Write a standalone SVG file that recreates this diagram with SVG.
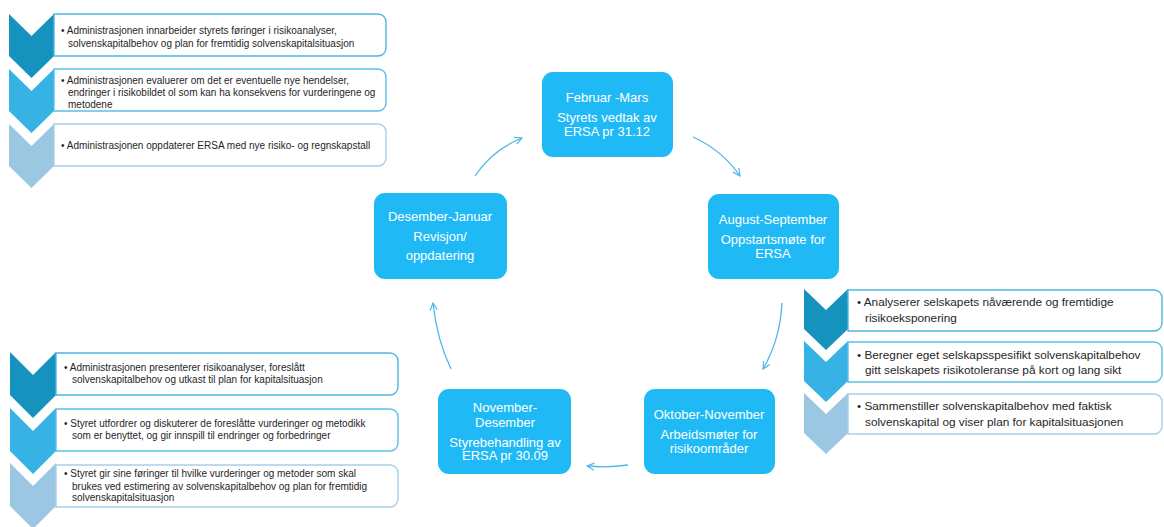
<svg xmlns="http://www.w3.org/2000/svg" width="1164" height="527" viewBox="0 0 1164 527">
<defs>
<style>
.c1{fill:#1592BE}
.c2{fill:#36B2E5}
.c3{fill:#9CC7E3}
.b{fill:#fff;stroke-width:1.4}
.b1{stroke:#4FB6E0}
.b2{stroke:#5BC0EA}
.b3{stroke:#A7CFEA}
.t{font-family:"Liberation Sans",Arial,sans-serif;fill:#262626}
.ts{font-size:10px}
.tl{font-size:11.8px}
.node rect{fill:#1FBAF5}
.nt{font-family:"Liberation Sans",Arial,sans-serif;font-size:13px;fill:#fff;text-anchor:middle}
.conn path{fill:none;stroke:#4DB8E8;stroke-width:1.3}
</style>
<marker id="ah" viewBox="0 0 10 10" refX="9" refY="5" markerWidth="9" markerHeight="9" markerUnits="userSpaceOnUse" orient="auto">
<path d="M1,1 L9,5 L1,9" fill="none" stroke="#4DB8E8" stroke-width="1.3"/>
</marker>
</defs>
<rect width="1164" height="527" fill="#fff"/>

<!-- Top-left list -->
<g id="list-top">
<path class="c1" d="M9,14 L31.5,36 L54,14 L54,56 L31.5,78 L9,56 Z"/>
<path class="c2" d="M9,69 L31.5,91 L54,69 L54,111 L31.5,133 L9,111 Z"/>
<path class="c3" d="M9,124 L31.5,146 L54,124 L54,166 L31.5,188 L9,166 Z"/>
<path class="b b1" d="M54,14 H378 A8,8 0 0 1 386,22 V48 A8,8 0 0 1 378,56 H54 Z"/>
<path class="b b2" d="M54,69 H378 A8,8 0 0 1 386,77 V103 A8,8 0 0 1 378,111 H54 Z"/>
<path class="b b3" d="M54,124 H378 A8,8 0 0 1 386,132 V158 A8,8 0 0 1 378,166 H54 Z"/>
<text class="t ts" x="61" y="34">• Administrasjonen innarbeider styrets føringer i risikoanalyser,</text>
<text class="t ts" x="68" y="47">solvenskapitalbehov og plan for fremtidig solvenskapitalsituasjon</text>
<text class="t ts" x="61" y="84">• Administrasjonen evaluerer om det er eventuelle nye hendelser,</text>
<text class="t ts" x="68" y="96">endringer i risikobildet ol som kan ha konsekvens for vurderingene og</text>
<text class="t ts" x="68" y="108">metodene</text>
<text class="t ts" x="61" y="149">• Administrasjonen oppdaterer ERSA med nye risiko- og regnskapstall</text>
</g>

<!-- Right list -->
<g id="list-right">
<path class="c1" d="M804,289 L826,310 L848,289 L848,329 L826,350 L804,329 Z"/>
<path class="c2" d="M804,341 L826,362 L848,341 L848,381 L826,402 L804,381 Z"/>
<path class="c3" d="M804,393 L826,414 L848,393 L848,433 L826,454 L804,433 Z"/>
<path class="b b1" d="M848,290 H1154 A8,8 0 0 1 1162,298 V323 A8,8 0 0 1 1154,331 H848 Z"/>
<path class="b b2" d="M848,342 H1154 A8,8 0 0 1 1162,350 V374 A8,8 0 0 1 1154,382 H848 Z"/>
<path class="b b3" d="M848,394 H1154 A8,8 0 0 1 1162,402 V426 A8,8 0 0 1 1154,434 H848 Z"/>
<text class="t tl" x="857" y="306">• Analyserer selskapets nåværende og fremtidige</text>
<text class="t tl" x="865" y="322">risikoeksponering</text>
<text class="t tl" x="857" y="359">• Beregner eget selskapsspesifikt solvenskapitalbehov</text>
<text class="t tl" x="865" y="374">gitt selskapets risikotoleranse på kort og lang sikt</text>
<text class="t tl" x="857" y="410">• Sammenstiller solvenskapitalbehov med faktisk</text>
<text class="t tl" x="865" y="426">solvenskapital og viser plan for kapitalsituasjonen</text>
</g>

<!-- Bottom-left list -->
<g id="list-bottom">
<path class="c1" d="M10,352 L33,375 L56,352 L56,395 L33,418 L10,395 Z"/>
<path class="c2" d="M10,408 L33,431 L56,408 L56,451 L33,474 L10,451 Z"/>
<path class="c3" d="M10,463 L33,486 L56,463 L56,506 L33,529 L10,506 Z"/>
<path class="b b1" d="M56,353 H390 A8,8 0 0 1 398,361 V387 A8,8 0 0 1 390,395 H56 Z"/>
<path class="b b2" d="M56,409 H390 A8,8 0 0 1 398,417 V443 A8,8 0 0 1 390,451 H56 Z"/>
<path class="b b3" d="M56,465 H390 A8,8 0 0 1 398,473 V499 A8,8 0 0 1 390,507 H56 Z"/>
<text class="t ts" x="64" y="371">• Administrasjonen presenterer risikoanalyser, foreslått</text>
<text class="t ts" x="72" y="383">solvenskapitalbehov og utkast til plan for kapitalsituasjon</text>
<text class="t ts" x="64" y="427">• Styret utfordrer og diskuterer de foreslåtte vurderinger og metodikk</text>
<text class="t ts" x="72" y="439">som er benyttet, og gir innspill til endringer og forbedringer</text>
<text class="t ts" x="64" y="477">• Styret gir sine føringer til hvilke vurderinger og metoder som skal</text>
<text class="t ts" x="72" y="490">brukes ved estimering av solvenskapitalbehov og plan for fremtidig</text>
<text class="t ts" x="72" y="501">solvenskapitalsituasjon</text>
</g>

<!-- Cycle nodes -->
<g id="node-feb" class="node">
<rect x="542" y="72" width="131" height="85" rx="11"/>
<text class="nt" x="607" y="102">Februar -Mars</text>
<text class="nt" x="607" y="122">Styrets vedtak av</text>
<text class="nt" x="607" y="136">ERSA pr 31.12</text>
</g>
<g id="node-aug" class="node">
<rect x="708" y="194" width="131" height="85" rx="11"/>
<text class="nt" x="773" y="224">August-September</text>
<text class="nt" x="773" y="244">Oppstartsmøte for</text>
<text class="nt" x="773" y="258">ERSA</text>
</g>
<g id="node-okt" class="node">
<rect x="644" y="389" width="131" height="85" rx="11"/>
<text class="nt" x="709" y="419">Oktober-November</text>
<text class="nt" x="709" y="439">Arbeidsmøter for</text>
<text class="nt" x="709" y="453">risikoområder</text>
</g>
<g id="node-nov" class="node">
<rect x="438" y="389" width="133" height="85" rx="11"/>
<text class="nt" x="505" y="412">November-</text>
<text class="nt" x="505" y="427">Desember</text>
<text class="nt" x="505" y="447">Styrebehandling av</text>
<text class="nt" x="505" y="460">ERSA pr 30.09</text>
</g>
<g id="node-des" class="node">
<rect x="374" y="193" width="133" height="86" rx="11"/>
<text class="nt" x="440" y="221">Desember-Januar</text>
<text class="nt" x="440" y="241">Revisjon/</text>
<text class="nt" x="440" y="260">oppdatering</text>
</g>

<!-- Connectors -->
<g id="connectors" class="conn">
<path d="M475,176 Q492,150 522,138" marker-end="url(#ah)"/>
<path d="M693,137 Q722,150 740,176" marker-end="url(#ah)"/>
<path d="M782,303 Q780,340 763,369" marker-end="url(#ah)"/>
<path d="M628,465 Q608,468 587,466" marker-end="url(#ah)"/>
<path d="M451,369 Q437,340 433,303" marker-end="url(#ah)"/>
</g>
</svg>
